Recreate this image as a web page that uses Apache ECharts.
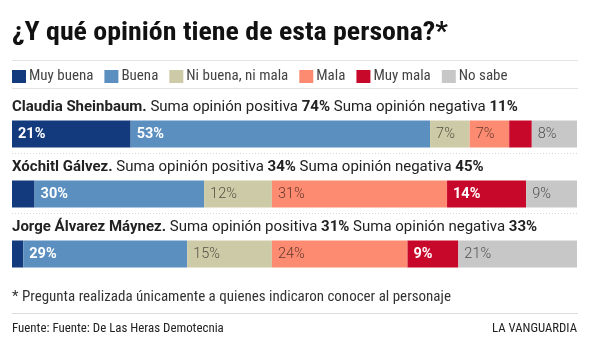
<!DOCTYPE html>
<html><head><meta charset="utf-8">
<script src="https://cdn.jsdelivr.net/npm/echarts@6/dist/echarts.min.js"></script>
<style>html,body{margin:0;padding:0;background:#fff}#c{width:594px;height:357px}</style>
</head><body><div id="c"></div>
<script>
var categories = ['Claudia Sheinbaum', 'Xóchitl Gálvez', 'Jorge Álvarez Máynez'];
var seriesNames = ['Muy buena', 'Buena', 'Ni buena, ni mala', 'Mala', 'Muy mala', 'No sabe'];
var muyBuena = [21, 4, 2];
var buena = [53, 30, 29];
var niBuena = [7, 12, 15];
var mala = [7, 31, 24];
var muyMala = [4, 14, 9];
var noSabe = [8, 9, 21];
var positiva = [74, 34, 31];
var negativa = [11, 45, 33];
var colors = ['#123a7c', '#5b8fc0', '#cdcba7', '#fc8b71', '#c8082b', '#c7c7c7'];
var darkLabel = [true, true, false, false, true, false];

var COND = "'Roboto Condensed','Liberation Sans Narrow','DejaVu Sans Condensed',Roboto,sans-serif";
var values = [muyBuena, buena, niBuena, mala, muyMala, noSabe];

var mctx = document.createElement('canvas').getContext('2d');
function measure(text, font) { mctx.font = font; return mctx.measureText(text).width; }
function fitSize(text, weight, family, target) {
  var w = measure(text, weight + ' 20px ' + family);
  return 20 * target / w;
}

var legendSize = fitSize('Ni buena, ni mala', 'normal', COND, 102);

var chart = echarts.init(document.getElementById('c'), null, {renderer: 'canvas'});
var series = seriesNames.map(function (n, i) {
  return {
    name: n, type: 'bar', stack: 'a', barWidth: 27, data: values[i],
    itemStyle: {color: colors[i]},
    emphasis: {disabled: true},
    label: {
      show: true, position: 'insideLeft', distance: 6,
      fontFamily: 'Roboto', fontSize: 14.5,
      fontWeight: darkLabel[i] ? 'bold' : 300,
      color: darkLabel[i] ? '#fff' : 'rgba(0,0,0,0.62)',
      formatter: function (p) { return p.value >= 5 ? p.value + '%' : ''; }
    }
  };
});

chart.setOption({
  animation: false,
  grid: {left: 12, right: 17, top: 104, height: 180},
  xAxis: {type: 'value', min: 0, max: 100, show: false},
  yAxis: {type: 'category', data: categories, inverse: true, show: false},
  legend: {
    left: 12, top: 69, padding: 0, itemWidth: 14, itemHeight: 13, itemGap: 11, icon: 'rect',
    selectedMode: false,
    textStyle: {fontFamily: COND, fontSize: legendSize, color: '#444', padding: [0, 0, 0, -2]},
    data: seriesNames
  },
  series: series
});

var titleText = '¿Y qué opinión tiene de esta persona?*';
var titleFont = 'bold 25.5px ' + COND;
var titleScale = 436 / measure(titleText, titleFont);

var headerTexts = categories.map(function (c, i) {
  return [c + '.', ' Suma opinión positiva ', positiva[i] + '%', ' Suma opinión negativa ', negativa[i] + '%'];
});
function headerWidth(parts, size) {
  var w = 0;
  parts.forEach(function (p, k) { w += measure(p, (k % 2 === 0 ? 'bold ' : 'normal ') + size + 'px Roboto'); });
  return w;
}
var headerSize = 20 * 506 / headerWidth(headerTexts[0], 20);

var footText = '* Pregunta realizada únicamente a quienes indicaron conocer al personaje';
var footSize = fitSize(footText, 'normal', COND, 439);
var srcText = 'Fuente: Fuente: De Las Heras Demotecnia';
var srcSize = fitSize(srcText, 'normal', COND, 212);
var brandText = 'LA VANGUARDIA';
var brandSize = fitSize(brandText, 'normal', COND, 85);

var g = [];
g.push({type: 'text', x: 12, y: 34, scaleX: titleScale, style: {text: titleText, font: titleFont, fill: '#111', verticalAlign: 'middle'}});
g.push({type: 'line', shape: {x1: 12, y1: 60.5, x2: 578, y2: 60.5}, style: {stroke: '#e3e3e3', lineWidth: 1}});
g.push({type: 'line', shape: {x1: 12, y1: 88.5, x2: 578, y2: 88.5}, style: {stroke: '#e3e3e3', lineWidth: 1}});
categories.forEach(function (c, i) {
  var y = chart.convertToPixel({yAxisIndex: 0}, c);
  var p = headerTexts[i];
  g.push({
    type: 'text', x: 12, y: y - 27,
    style: {
      text: '{b|' + p[0] + '}' + p[1] + '{b|' + p[2] + '}' + p[3] + '{b|' + p[4] + '}',
      fontFamily: 'Roboto', fontSize: headerSize, fill: '#222', verticalAlign: 'middle',
      rich: {b: {fontFamily: 'Roboto', fontSize: headerSize, fontWeight: 'bold', fill: '#222'}}
    }
  });
  if (i < categories.length - 1) {
    g.push({type: 'line', shape: {x1: 12, y1: Math.round(y + 19) + 0.5, x2: 578, y2: Math.round(y + 19) + 0.5}, style: {stroke: '#d6d6d6', lineWidth: 1, lineDash: [1, 2]}});
  }
});
g.push({type: 'text', x: 12, y: 297, style: {text: footText, font: footSize + 'px ' + COND, fill: '#333', verticalAlign: 'middle'}});
g.push({type: 'line', shape: {x1: 12, y1: 313.5, x2: 578, y2: 313.5}, style: {stroke: '#dcdcdc', lineWidth: 1}});
g.push({type: 'text', x: 12, y: 329, style: {text: srcText, font: srcSize + 'px ' + COND, fill: '#222', verticalAlign: 'middle'}});
g.push({type: 'text', x: 577, y: 329, style: {text: brandText, font: brandSize + 'px ' + COND, fill: '#222', verticalAlign: 'middle', align: 'right'}});
chart.setOption({graphic: g});
</script></body></html>
